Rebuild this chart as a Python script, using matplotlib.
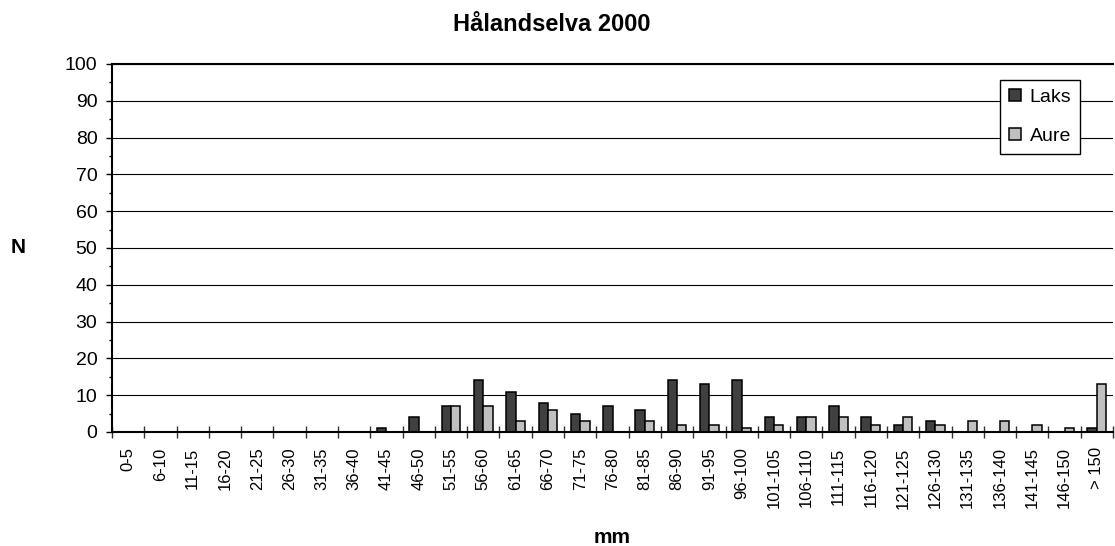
import matplotlib
matplotlib.use("Agg")
import matplotlib.pyplot as plt
import numpy as np
from matplotlib.ticker import MultipleLocator, FixedLocator

plt.rcParams['font.family'] = ['Liberation Sans', 'DejaVu Sans']

categories = ["0-5", "6-10", "11-15", "16-20", "21-25", "26-30", "31-35", "36-40",
              "41-45", "46-50", "51-55", "56-60", "61-65", "66-70", "71-75", "76-80",
              "81-85", "86-90", "91-95", "96-100", "101-105", "106-110", "111-115",
              "116-120", "121-125", "126-130", "131-135", "136-140", "141-145",
              "146-150", "> 150"]
laks = [0, 0, 0, 0, 0, 0, 0, 0,
        1, 4, 7, 14, 11, 8, 5, 7,
        6, 14, 13, 14, 4, 4, 7,
        4, 2, 3, 0, 0, 0,
        0, 1]
aure = [0, 0, 0, 0, 0, 0, 0, 0,
        0, 0, 7, 7, 3, 6, 3, 0,
        3, 2, 2, 1, 2, 4, 4,
        2, 4, 2, 3, 3, 2,
        1, 13]
series_names = ["Laks", "Aure"]
title = "Hålandselva 2000"

fig = plt.figure(figsize=(11.15, 5.46), dpi=100)
ax = fig.add_axes([112/1115, 1-432/546, (1113-112)/1115, (432-64)/546])

x = np.arange(len(categories))
w = 0.29
ax.bar(x - w/2, laks, width=w, color='#404040', edgecolor='black', linewidth=1.1,
       label=series_names[0], zorder=3)
ax.bar(x + w/2, aure, width=w, color='#c0c0c0', edgecolor='black', linewidth=1.1,
       label=series_names[1], zorder=3)

ax.set_xlim(-0.5, len(categories) - 0.5)
ax.set_ylim(0, 100)

ax.yaxis.set_major_locator(MultipleLocator(10))
ax.yaxis.set_minor_locator(MultipleLocator(5))
ax.grid(axis='y', which='major', color='black', linewidth=0.8)
ax.set_axisbelow(True)

ax.set_xticks(x)
ax.set_xticklabels(categories, rotation=90, fontsize=12, va='top', ha='center')
ax.xaxis.set_minor_locator(FixedLocator(np.arange(-0.5, len(categories), 1.0)))
ax.tick_params(axis='x', which='major', length=0, pad=11)
ax.tick_params(axis='x', which='minor', direction='inout', length=8, width=1, color='#333333')
ax.tick_params(axis='y', which='major', direction='out', length=4.5, width=1, labelsize=14, pad=6)
ax.tick_params(axis='y', which='minor', direction='out', length=2.5, width=1)

for s in ['left', 'bottom', 'top']:
    ax.spines[s].set_linewidth(1.5)
    ax.spines[s].set_color('black')
ax.spines['right'].set_visible(False)
ax.spines['bottom'].set_zorder(5)

leg = ax.legend(loc='upper right', bbox_to_anchor=((1080-112)/1001, (432-80)/368),
                borderaxespad=0, fontsize=14, frameon=True, fancybox=False,
                edgecolor='black', framealpha=1, handlelength=0.6, handleheight=0.6,
                handletextpad=0.45, labelspacing=1.15, borderpad=0.45)
leg.get_frame().set_linewidth(1.0)
leg.set_zorder(10)

fig.text(551.5/1115, 1-31/546, title, ha='center', va='baseline', fontsize=17, fontweight='bold')
fig.text(18.5/1115, 1-248/546, "N", ha='center', va='center', fontsize=15, fontweight='bold')
fig.text(612.5/1115, 1-543/546, "mm", ha='center', va='baseline', fontsize=15, fontweight='bold')

fig.savefig("out.png", dpi=100)
